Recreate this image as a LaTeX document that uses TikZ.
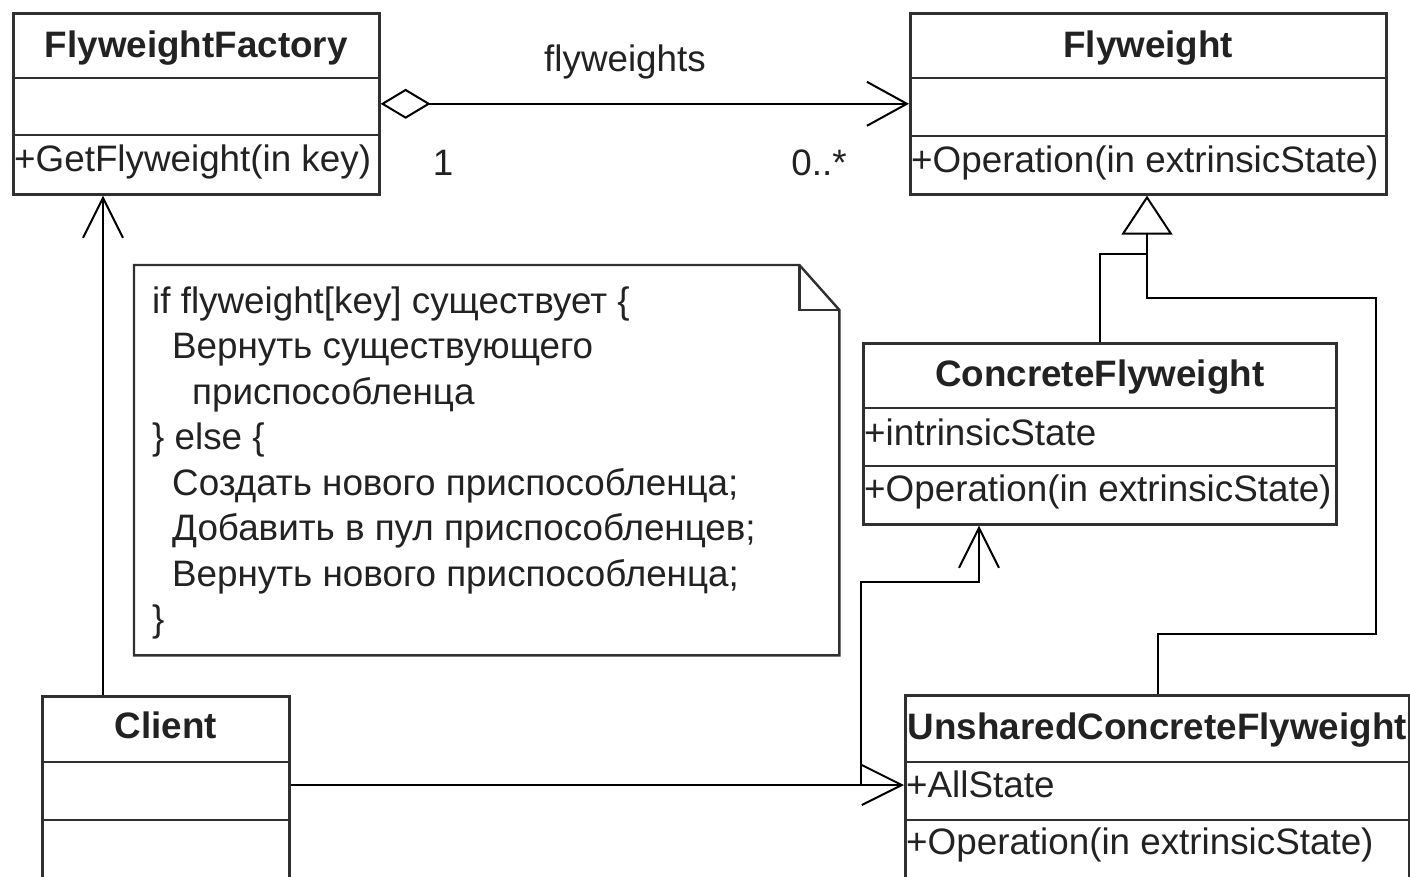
\documentclass[tikz,border=0pt]{standalone}
\usepackage{fontspec}
\setmainfont{Liberation Sans}
\usetikzlibrary{arrows.meta}
\definecolor{ink}{HTML}{222222}
\definecolor{frame}{HTML}{303030}

\begin{document}
\begin{tikzpicture}[x=1pt,y=-1pt,
  box/.style={draw=frame, line width=2.6pt, rectangle, inner sep=0pt, anchor=north west},
  divider/.style={draw=frame, line width=2.4pt},
  txt/.style={text=ink, inner sep=0pt, text height=26.3pt, text depth=0pt, font=\fontsize{36.8}{44}\selectfont},
  classname/.style={txt, font=\bfseries\fontsize{36.8}{44}\selectfont},
  member/.style={txt, anchor=west},
  rolelabel/.style={text=ink, inner sep=0pt, anchor=base, font=\fontsize{36.8}{44}\selectfont},
  noteline/.style={text=ink, inner sep=0pt, anchor=base west, font=\fontsize{36.8}{44}\selectfont},
  notebox/.style={draw=frame, line width=2.4pt, line join=miter},
  conn/.style={draw=black, line width=2pt},
  assoc/.style={conn, -{Straight Barb[length=40pt, width=40pt]}},
  aggr/.style={conn, {Diamond[open, length=50pt, width=30pt]}-{Straight Barb[length=40pt, width=44pt]}},
  gen/.style={conn, -{Triangle[open, length=39pt, width=51pt]}},
]
\useasboundingbox (0,0) rectangle (1410,876);
\fill[white] (0,0) rectangle (1410,876);
\clip (0,0) rectangle (1410,876);

% ---- classes ----
\node[box, minimum width=366pt, minimum height=181pt] (factory) at (12,12) {};
\draw[divider] (factory.west |- 0,78) -- (factory.east |- 0,78);
\draw[divider] (factory.west |- 0,135) -- (factory.east |- 0,135);
\node[classname] (factoryname) at (factory.north |- 0,44) {FlyweightFactory};
\node[member] (factoryop) at (14,158) {+GetFlyweight(in key)};

\node[box, minimum width=476pt, minimum height=181pt] (fly) at (909,12) {};
\draw[divider] (fly.west |- 0,78) -- (fly.east |- 0,78);
\draw[divider] (fly.west |- 0,136) -- (fly.east |- 0,136);
\node[classname] (flyname) at (fly.north |- 0,44) {Flyweight};
\node[member] (flyop) at (911,159) {+Operation(in extrinsicState)};

\node[box, minimum width=473pt, minimum height=181pt] (concrete) at (862,342) {};
\draw[divider] (concrete.west |- 0,408) -- (concrete.east |- 0,408);
\draw[divider] (concrete.west |- 0,466) -- (concrete.east |- 0,466);
\node[classname] (concretename) at (concrete.north |- 0,373) {ConcreteFlyweight};
\node[member] (concreteattr) at (864,432) {+intrinsicState};
\node[member] (concreteop) at (864,488) {+Operation(in extrinsicState)};

\node[box, minimum width=504pt, minimum height=220pt] (unshared) at (904,694) {};
\draw[divider] (unshared.west |- 0,762) -- (unshared.east |- 0,762);
\draw[divider] (unshared.west |- 0,820) -- (unshared.east |- 0,820);
\node[classname] (unsharedname) at (unshared.north |- 0,726) {UnsharedConcreteFlyweight};
\node[member] (unsharedattr) at (906,784) {+AllState};
\node[member] (unsharedop) at (906,841) {+Operation(in extrinsicState)};

\node[box, minimum width=247pt, minimum height=220pt] (client) at (41,695) {};
\draw[divider] (client.west |- 0,762) -- (client.east |- 0,762);
\draw[divider] (client.west |- 0,820) -- (client.east |- 0,820);
\node[classname] (clientname) at (client.north |- 0,725) {Client};

% ---- note with folded corner ----
\node[inner sep=0pt, minimum width=705pt, minimum height=390pt, anchor=north west] (note) at (134,265) {};
\draw[notebox] (note.north west) -- ([xshift=-40pt]note.north east)
  -- ([yshift=-45pt]note.north east) -- (note.south east) -- (note.south west) -- cycle;
\draw[notebox] ([xshift=-40pt]note.north east) -- ([xshift=-40pt,yshift=-45pt]note.north east)
  -- ([yshift=-45pt]note.north east);
\node[noteline] (nl1) at (152,313)   {if flyweight[key] существует \{};
\node[noteline] (nl2) at (172,358.5) {Вернуть существующего};
\node[noteline] (nl3) at (192,404)   {приспособленца};
\node[noteline] (nl4) at (152,449.5) {\} else \{};
\node[noteline] (nl5) at (172,495)   {Создать нового приспособленца;};
\node[noteline] (nl6) at (172,540.5) {Добавить в пул приспособленцев;};
\node[noteline] (nl7) at (172,586)   {Вернуть нового приспособленца;};
\node[noteline] (nl8) at (152,631.5) {\}};

% ---- connectors ----
\draw[aggr] (factory.east) -- (fly.west);
\node[rolelabel] (assocname) at (625,71) {flyweights};
\node[rolelabel] (multone) at (443,175) {1};
\node[rolelabel] (multmany) at (819,175) {0..*};

\coordinate (cfx) at (103,0);
\draw[assoc] (client.north -| cfx) -- (factory.south -| cfx);

\coordinate (cy) at (0,785);
\draw[assoc] (client.east |- cy) -- (unshared.west |- cy);

\coordinate (jn) at (861,785);
\coordinate (kk) at (979,582);
\draw[assoc] (jn) -- (jn |- kk) -| (concrete.south -| kk);

\coordinate (ux) at (1158,634);
\coordinate (rx) at (1376,298);
\coordinate (tx) at (1147,254);
\draw[conn] (concrete.north) |- (tx);
\draw[gen] (unshared.north -| ux) |- (rx |- ux) -- (rx) -- (tx |- rx) -- (fly.south -| tx);
\end{tikzpicture}
\end{document}
